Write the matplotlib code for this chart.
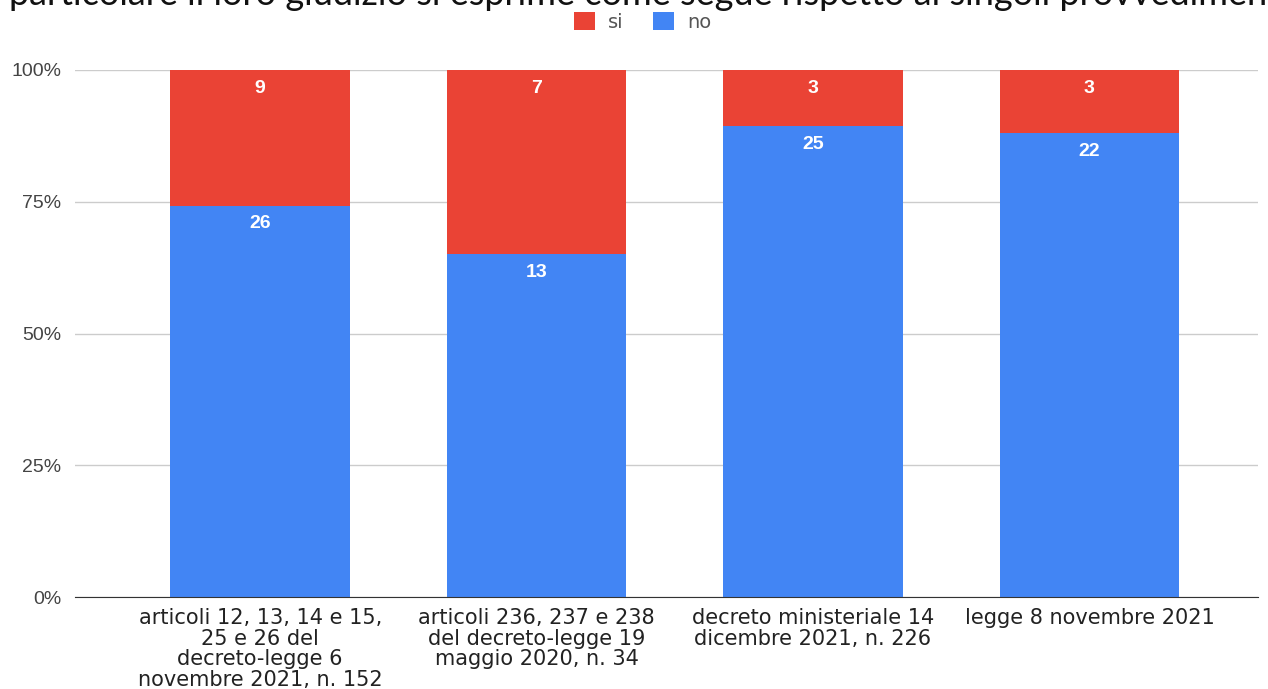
import matplotlib.pyplot as plt
import numpy as np

# dati
categorie = [
    "articoli 12, 13, 14 e 15,\n25 e 26 del\ndecreto-legge 6\nnovembre 2021, n. 152",
    "articoli 236, 237 e 238\ndel decreto-legge 19\nmaggio 2020, n. 34",
    "decreto ministeriale 14\ndicembre 2021, n. 226",
    "legge 8 novembre 2021",
]
si = [9, 7, 3, 3]
no = [26, 13, 25, 22]
tick_pct = [0, 25, 50, 75, 100]

rosso = '#EA4335'
blu = '#4285F4'

si_a = np.array(si, dtype=float)
no_a = np.array(no, dtype=float)
tot = si_a + no_a
no_pct = no_a / tot * 100
si_pct = si_a / tot * 100

fig = plt.figure(figsize=(12.68, 6.89), dpi=100)
ax = fig.add_axes([75 / 1268, 1 - 597 / 689, 1183 / 1268, 527 / 689])

x = np.arange(len(categorie))
w = 0.65
b_no = ax.bar(x, no_pct, w, color=blu, label='no', zorder=2)
b_si = ax.bar(x, si_pct, w, bottom=no_pct, color=rosso, label='si', zorder=2)

# etichette in cima ad ogni segmento
for i in range(len(x)):
    ax.annotate(str(no[i]), xy=(x[i], no_pct[i]), xytext=(0, -7),
                textcoords='offset points', ha='center', va='top',
                color='white', fontsize=14, fontweight='bold',
                family='Liberation Sans')
    ax.annotate(str(si[i]), xy=(x[i], 100), xytext=(0, -7),
                textcoords='offset points', ha='center', va='top',
                color='white', fontsize=14, fontweight='bold',
                family='Liberation Sans')

ax.set_xlim(-0.67, 3.61)
ax.set_ylim(0, 100)
ax.set_yticks(tick_pct)
ax.set_yticklabels([f"{t}%" for t in tick_pct], fontsize=14,
                   color='#444444', family='Liberation Sans')
ax.set_xticks(x)
ax.set_xticklabels(categorie, fontsize=15, color='#222222',
                   linespacing=1.03, va='top')
ax.tick_params(axis='both', length=0)
ax.tick_params(axis='y', pad=10)
ax.tick_params(axis='x', pad=8)
ax.grid(axis='y', color='#cccccc', linewidth=1, zorder=0)
for s in ['top', 'right', 'left']:
    ax.spines[s].set_visible(False)
ax.spines['bottom'].set_color('#333333')
ax.spines['bottom'].set_zorder(3)

# legenda in alto
handles = [b_si, b_no]
fig.legend(handles, ['si', 'no'], loc='center', bbox_to_anchor=(0.507, 1 - 22 / 689),
           ncol=2, frameon=False, fontsize=14, handlelength=1.05, handleheight=1.05,
           columnspacing=1.5, handletextpad=0.7, labelcolor='#555555')

# testo del titolo tagliato in alto (come nell'originale)
fig.text(0.512, 1 - 5 / 689,
         "particolare il loro giudizio si esprime come segue rispetto ai singoli provvedimenti",
         ha='center', va='baseline', fontsize=26, color='#111111',
         family='Lato', fontweight='normal')

plt.savefig("out.png", dpi=100)
